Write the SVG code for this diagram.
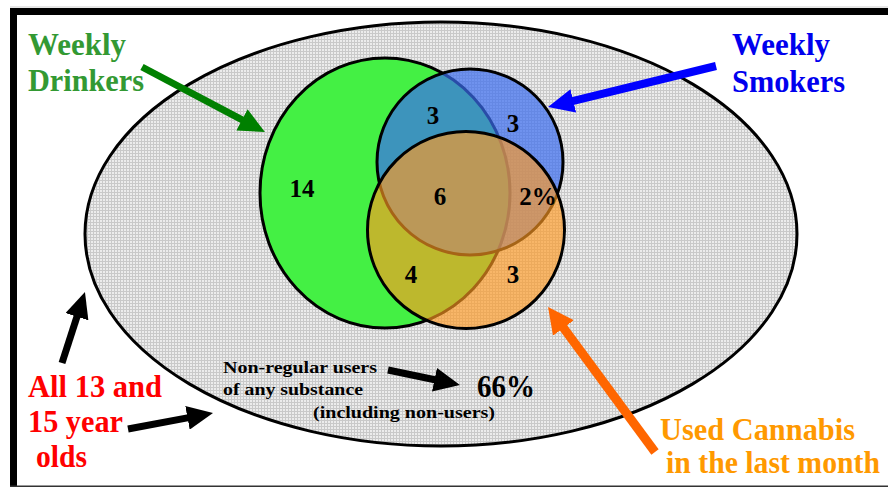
<svg xmlns="http://www.w3.org/2000/svg" width="888" height="489" viewBox="0 0 888 489">
<defs>
<pattern id="dots" width="3" height="3" patternUnits="userSpaceOnUse">
<rect width="3" height="3" fill="#ececec"/>
<rect width="3" height="1" fill="#c9c9c9"/>
<rect width="1" height="3" fill="#c9c9c9"/>
</pattern>
<marker id="hGreen" markerUnits="userSpaceOnUse" markerWidth="27" markerHeight="24" refX="4" refY="12" orient="auto"><path d="M0,0 L26,12 L0,24 z" fill="#008000"/></marker>
<marker id="hBlue" markerUnits="userSpaceOnUse" markerWidth="27" markerHeight="24" refX="4" refY="12" orient="auto"><path d="M0,0 L26,12 L0,24 z" fill="#0000ff"/></marker>
<marker id="hOrange" markerUnits="userSpaceOnUse" markerWidth="27" markerHeight="26" refX="4" refY="13" orient="auto"><path d="M0,0 L26,13 L0,26 z" fill="#ff6600"/></marker>
<marker id="hBlack" markerUnits="userSpaceOnUse" markerWidth="27" markerHeight="24" refX="4" refY="12" orient="auto"><path d="M0,0 L26,12 L0,24 z" fill="#000"/></marker>
</defs>
<style>
.lbl{font-family:"Liberation Serif","Times New Roman",serif;font-weight:bold;font-size:31px}
.num{font-family:"Liberation Serif","Times New Roman",serif;font-weight:bold;font-size:25px;fill:#000;text-anchor:middle}
.small{font-family:"Liberation Serif","Times New Roman",serif;font-weight:bold;font-size:17px;fill:#000}
.set{stroke:#000;stroke-width:3}
.arr{fill:none;stroke-linecap:butt}
</style>
<rect width="888" height="489" fill="#fff"/>
<g id="frame">
<rect x="10" y="6.5" width="878" height="1" fill="#cfcfcf"/>
<rect x="10" y="8" width="878" height="7" fill="#000"/>
<rect x="10" y="8" width="7" height="479" fill="#000"/>
<rect x="10" y="485.5" width="878" height="1.5" fill="#333"/>
</g>
<g id="population">
<ellipse cx="441" cy="234" rx="356" ry="212" fill="url(#dots)" stroke="#000" stroke-width="3"/>
</g>
<g id="drinkers">
<ellipse class="set" cx="385" cy="193" rx="125" ry="135" fill="#44f044"/>
</g>
<g id="smokers">
<circle class="set" cx="470" cy="162" r="93" fill="#3a6cf0" fill-opacity="0.7"/>
</g>
<g id="cannabis">
<circle class="set" cx="466" cy="230" r="98.5" fill="#ff9922" fill-opacity="0.65"/>
</g>
<g id="numbers">
<text class="num" x="433" y="124">3</text>
<text class="num" x="513" y="132">3</text>
<text class="num" x="302" y="197">14</text>
<text class="num" x="440" y="205">6</text>
<text class="num" x="538" y="205">2%</text>
<text class="num" x="411" y="283">4</text>
<text class="num" x="513" y="283">3</text>
</g>
<g id="connectors">
<line class="arr" x1="142" y1="67" x2="245.5" y2="121.7" stroke="#008000" stroke-width="7" marker-end="url(#hGreen)"/>
<line class="arr" x1="716" y1="66" x2="569.4" y2="101.8" stroke="#0000ff" stroke-width="8" marker-end="url(#hBlue)"/>
<line class="arr" x1="655" y1="452" x2="561.1" y2="324.7" stroke="#ff6600" stroke-width="9" marker-end="url(#hOrange)"/>
<line class="arr" x1="62" y1="363" x2="78.2" y2="312.9" stroke="#000" stroke-width="7" marker-end="url(#hBlack)"/>
<line class="arr" x1="128" y1="429" x2="191.4" y2="417.1" stroke="#000" stroke-width="7" marker-end="url(#hBlack)"/>
<line class="arr" x1="388" y1="370" x2="438.4" y2="380.5" stroke="#000" stroke-width="7" marker-end="url(#hBlack)"/>
</g>
<g id="label-drinkers" fill="#339933">
<text class="lbl" x="28" y="55" textLength="98" lengthAdjust="spacingAndGlyphs">Weekly</text>
<text class="lbl" x="28" y="91" textLength="116" lengthAdjust="spacingAndGlyphs">Drinkers</text>
</g>
<g id="label-smokers" fill="#0000ee">
<text class="lbl" x="732" y="55" textLength="98" lengthAdjust="spacingAndGlyphs">Weekly</text>
<text class="lbl" x="732" y="92" textLength="113" lengthAdjust="spacingAndGlyphs">Smokers</text>
</g>
<g id="label-all" fill="#ff0000">
<text class="lbl" x="28" y="397" textLength="134" lengthAdjust="spacingAndGlyphs">All 13 and</text>
<text class="lbl" x="28" y="432" textLength="95" lengthAdjust="spacingAndGlyphs">15 year</text>
<text class="lbl" x="36" y="467" textLength="51" lengthAdjust="spacingAndGlyphs">olds</text>
</g>
<g id="label-cannabis" fill="#ff9900">
<text class="lbl" x="660" y="440" textLength="195" lengthAdjust="spacingAndGlyphs">Used Cannabis</text>
<text class="lbl" x="666" y="473" textLength="214" lengthAdjust="spacingAndGlyphs">in the last month</text>
</g>
<g id="label-nonregular">
<text class="small" x="223" y="373" textLength="154" lengthAdjust="spacingAndGlyphs">Non-regular users</text>
<text class="small" x="223" y="395" textLength="140" lengthAdjust="spacingAndGlyphs">of any substance</text>
<text class="small" x="313" y="418" textLength="182" lengthAdjust="spacingAndGlyphs">(including non-users)</text>
<text x="477" y="397" font-family="Liberation Serif, Times New Roman, serif" font-weight="bold" font-size="32" textLength="58" lengthAdjust="spacingAndGlyphs">66%</text>
</g>
</svg>
